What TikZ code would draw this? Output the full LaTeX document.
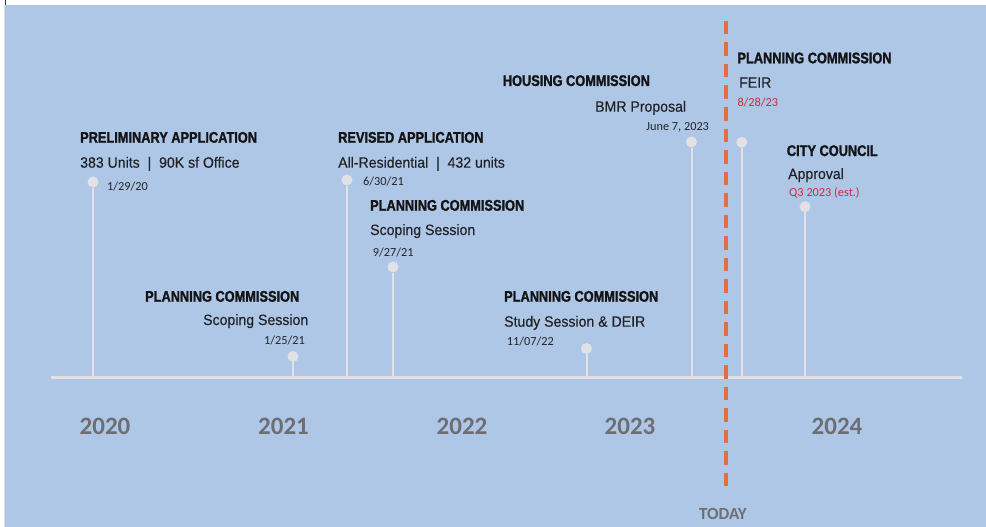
\documentclass[tikz,border=0pt]{standalone}
\usepackage{fontspec}
\setmainfont{Liberation Sans}
\newfontfamily\headfont{Liberation Sans}[FakeStretch=0.83,FakeBold=1.4]
\newfontfamily\subfont{Liberation Sans}[FakeStretch=0.94,FakeBold=0.3]
\newfontfamily\datefont{Carlito}

\definecolor{panelblue}{RGB}{174,199,230}
\definecolor{stemgray}{RGB}{226,226,230}
\definecolor{titleink}{RGB}{20,20,22}
\definecolor{subink}{RGB}{34,34,38}
\definecolor{dateink}{RGB}{36,36,40}
\definecolor{estred}{RGB}{204,45,60}
\definecolor{yeargray}{RGB}{110,110,114}
\definecolor{todayorange}{RGB}{226,110,66}

\tikzset{
  evtitle/.style={anchor=base west, inner sep=0pt, text=titleink,
    font=\headfont\bfseries\fontsize{15.4}{18}\selectfont},
  evsub/.style={anchor=base west, inner sep=0pt, text=subink,
    font=\subfont\fontsize{15}{18}\selectfont},
  evdate/.style={anchor=base west, inner sep=0pt, text=dateink,
    font=\datefont\fontsize{12.3}{14}\selectfont},
  evest/.style={evdate, text=estred},
  evdot/.style={circle, fill=stemgray, inner sep=0pt, minimum size=11pt},
  evstem/.style={draw=stemgray, line width=2pt},
  axisline/.style={draw=stemgray, line width=3pt},
  yearlbl/.style={anchor=base, inner sep=0pt, text=yeargray,
    font=\datefont\bfseries\fontsize{25}{28}\selectfont},
  todaylbl/.style={anchor=base, inner sep=0pt, text=yeargray,
    font=\datefont\bfseries\fontsize{17}{20}\selectfont},
  todayline/.style={draw=todayorange, line width=4.5pt,
    dash pattern=on 13.5pt off 8pt},
}

\begin{document}
\begin{tikzpicture}[x=1pt,y=-1pt]
  % page and panel
  \fill[white] (0,0) rectangle (986,527);
  \useasboundingbox (0,0) rectangle (986,527);
  \fill[panelblue] (5,5) rectangle (986,527);
  \draw[black!80, line width=1.2pt] (5.5,0) -- (5.5,5);
  \draw[black!12, line width=0.8pt] (4.6,5) -- (4.6,527);

  % timeline axis
  \coordinate (axisL) at (51,377.5);
  \coordinate (axisR) at (962,377.5);

  % event markers
  \node[evdot] (d1) at (93,182) {};
  \node[evdot] (d2) at (293,356.5) {};
  \node[evdot] (d3) at (347,180) {};
  \node[evdot] (d4) at (393,267) {};
  \node[evdot] (d5) at (586.5,348.5) {};
  \node[evdot] (d6) at (691.5,142) {};
  \node[evdot] (d7) at (741.7,142.3) {};
  \node[evdot] (d8) at (805,206.7) {};
  \foreach \d in {d1,d2,d3,d4,d5,d6,d7,d8}
    \draw[evstem] (\d) -- (\d |- axisL);
  \draw[axisline] (axisL) -- (axisR);

  % event labels
  \node[evtitle] (t1) at (80,142.7) {PRELIMINARY APPLICATION};
  \node[evsub]   (s1) at (80,167.7) {383 Units\ \ |\ \ 90K sf Office};
  \node[evdate]  (a1) at (107,190) {1/29/20};

  \node[evtitle] (t2) at (145,301.7) {PLANNING COMMISSION};
  \node[evsub]   (s2) at (203,325) {Scoping Session};
  \node[evdate]  (a2) at (264,344) {1/25/21};

  \node[evtitle] (t3) at (338,142.7) {REVISED APPLICATION};
  \node[evsub]   (s3) at (338,167.7) {All-Residential\ \ |\ \ 432 units};
  \node[evdate]  (a3) at (363,185.7) {6/30/21};

  \node[evtitle] (t4) at (370,210.7) {PLANNING COMMISSION};
  \node[evsub]   (s4) at (370,235) {Scoping Session};
  \node[evdate]  (a4) at (372.7,256.7) {9/27/21};

  \node[evtitle] (t5) at (504,301.7) {PLANNING COMMISSION};
  \node[evsub]   (s5) at (504,326.7) {Study Session \& DEIR};
  \node[evdate]  (a5) at (506.7,345.7) {11/07/22};

  \node[evtitle] (t6) at (502.7,86) {HOUSING COMMISSION};
  \node[evsub]   (s6) at (595,111.7) {BMR Proposal};
  \node[evdate]  (a6) at (646,130) {June 7, 2023};

  \node[evtitle] (t7) at (737.3,63.3) {PLANNING COMMISSION};
  \node[evsub]   (s7) at (739,87.7) {FEIR};
  \node[evest]   (a7) at (737.3,106.7) {8/28/23};

  \node[evtitle] (t8) at (786.7,156) {CITY COUNCIL};
  \node[evsub]   (s8) at (788,179) {Approval};
  \node[evest]   (a8) at (789,196) {Q3 2023 (est.)};

  % years
  \node[yearlbl] (y2020) at (105,434) {2020};
  \node[yearlbl] (y2021) at (283.5,434) {2021};
  \node[yearlbl] (y2022) at (462,434) {2022};
  \node[yearlbl] (y2023) at (630,434) {2023};
  \node[yearlbl] (y2024) at (837,434) {2024};

  % today marker
  \coordinate (todayTop) at (726,21);
  \coordinate (todayBot) at (726,486);
  \draw[todayline] (todayTop) -- (todayBot);
  \node[todaylbl] (today) at (723,519.3) {TODAY};
\end{tikzpicture}
\end{document}
